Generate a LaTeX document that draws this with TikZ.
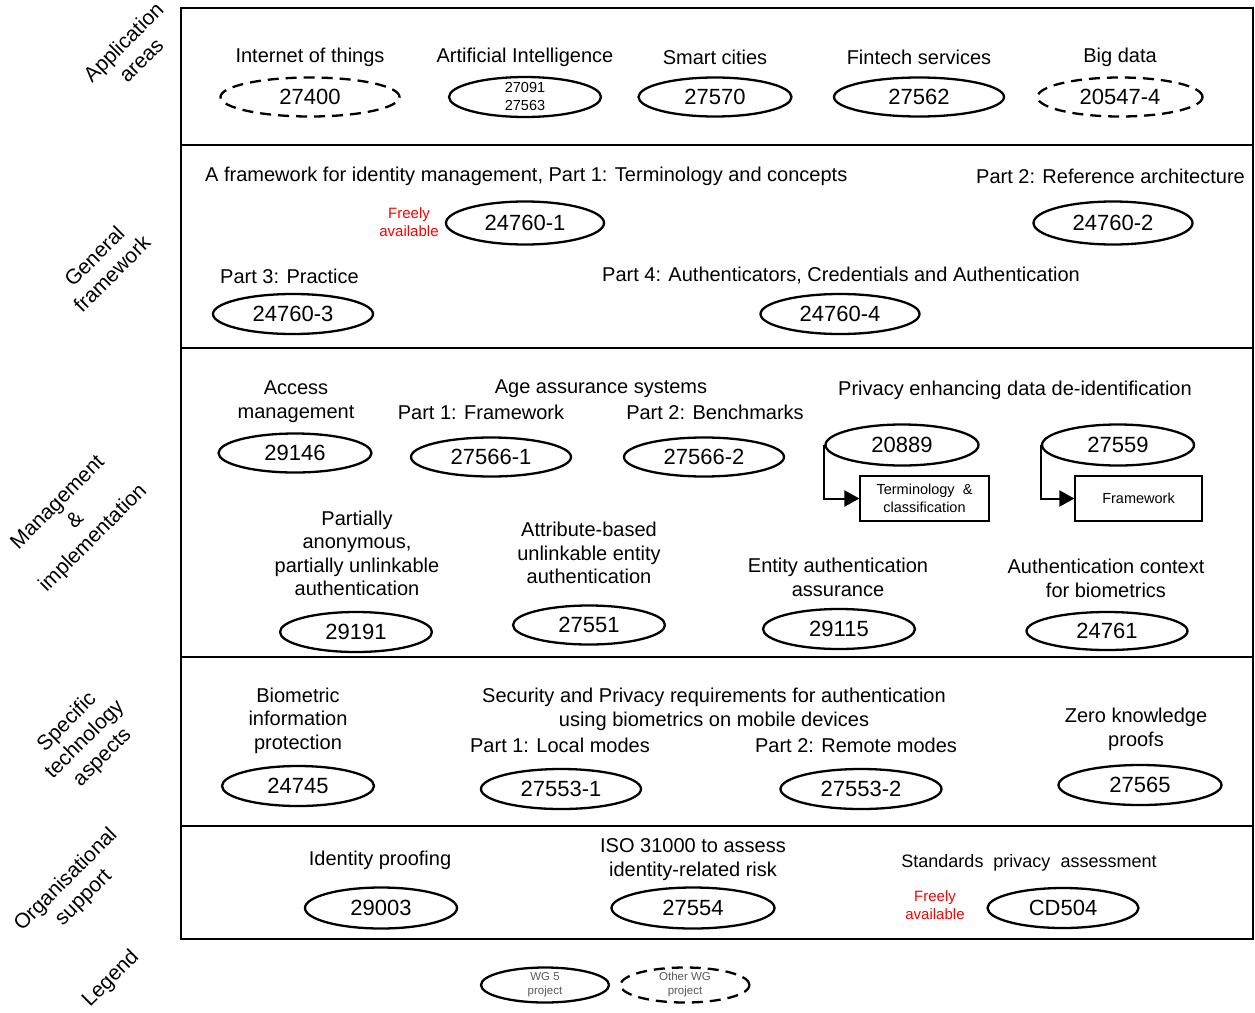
\documentclass[tikz,border=0pt]{standalone}
\usepackage{fontspec}
\setmainfont{Liberation Sans}
\usetikzlibrary{shapes.geometric,arrows.meta}
\begin{document}
\begin{tikzpicture}[x=1pt,y=-1pt,
  std/.style={draw, ellipse, line width=2.3pt, inner sep=0pt, minimum height=39pt, font=\fontsize{22}{24}\selectfont},
  oth/.style={std, dash pattern=on 11pt off 7pt},
  lbl/.style={inner sep=0pt, align=center, font=\fontsize{20}{23.5}\selectfont},
  side/.style={inner sep=0pt, align=center, rotate=45, font=\fontsize{21}{25}\selectfont},
  free/.style={inner sep=0pt, align=center, text=red, font=\fontsize{15}{18}\selectfont},
  subbox/.style={draw, line width=1.2pt, inner sep=0pt, minimum width=129pt, minimum height=45pt, align=center, font=\fontsize{14.5}{18}\selectfont},
  arr/.style={line width=2pt, -{Triangle[length=15pt,width=16pt]}},
  frame/.style={line width=2.5pt}]
\useasboundingbox (0,0) rectangle (1255,1012);
% frame
\draw[frame] (181,8) rectangle (1253,939);
\draw[frame] (181,145) -- (1253,145);
\draw[frame] (181,348) -- (1253,348);
\draw[frame] (181,657) -- (1253,657);
\draw[frame] (181,826) -- (1253,826);
% side labels
\node[side] (sA) at (132,51) {Application\\areas};
\node[side] (sG) at (103,265) {General\\framework};
\node[side] (sM) at (76,521) {Management\\\&\\implementation};
\node[side] (sS) at (85,740) {Specific\\technology\\aspects};
\node[side] (sO) at (75,889) {Organisational\\support};
\node[side] (sL) at (111,979) {Legend};
% Row 1
\node[lbl] (tIoT) at (310,57) {Internet of things};
\node[oth, minimum width=179pt] (e27400) at (310,97) {27400};
\node[lbl] (tAI) at (525,57) {Artificial Intelligence};
\node[std, minimum width=152pt, font=\fontsize{14.5}{18}\selectfont, align=center] (eAI) at (525,97) {27091\\27563};
\node[lbl] (tSC) at (715,57) {Smart cities};
\node[std, minimum width=153pt] (e27570) at (715,97) {27570};
\node[lbl] (tFS) at (919,57) {Fintech services};
\node[std, minimum width=170pt] (e27562) at (919,97) {27562};
\node[lbl] (tBD) at (1120,57) {Big data};
\node[oth, minimum width=165pt] (e20547) at (1120,97) {20547-4};
% Row 2
\node[lbl, anchor=west] (tP1) at (205,176) {A framework for identity management, Part 1: Terminology and concepts};
\node[lbl, anchor=east] (tP2) at (1245,176) {Part 2: Reference architecture};
\node[free] (fr1) at (409,222) {Freely\\available};
\node[std, minimum width=158pt, minimum height=43pt] (e247601) at (525,223) {24760-1};
\node[std, minimum width=159pt, minimum height=43pt] (e247602) at (1113,223) {24760-2};
\node[lbl, anchor=west] (tP3) at (220,276) {Part 3: Practice};
\node[std, minimum width=160pt, minimum height=40pt] (e247603) at (293,314) {24760-3};
\node[lbl] (tP4) at (841,276) {Part 4: Authenticators, Credentials and Authentication};
\node[std, minimum width=159pt, minimum height=40pt] (e247604) at (840,314) {24760-4};
% Row 3
\node[lbl] (tAM) at (296,401.5) {Access\\management};
\node[std, minimum width=153pt] (e29146) at (295,453) {29146};
\node[lbl] (tAA) at (601,389) {Age assurance systems};
\node[lbl] (tAA1) at (481,412) {Part 1: Framework};
\node[lbl] (tAA2) at (715,412) {Part 2: Benchmarks};
\node[std, minimum width=160pt] (e275661) at (491,457) {27566-1};
\node[std, minimum width=160pt] (e275662) at (704,457) {27566-2};
\node[lbl] (tPE) at (1015,390) {Privacy enhancing data de-identification};
\node[std, minimum width=153pt, minimum height=41pt] (e20889) at (902,445) {20889};
\node[std, minimum width=152pt, minimum height=41pt] (e27559) at (1118,445) {27559};
\node[subbox] (b1) at (924.5,498.5) {Terminology\ \ \&\\classification};
\node[subbox, minimum width=127pt] (b2) at (1138.5,498.5) {Framework};
\draw[arr] (e20889.west) |- (b1.west);
\draw[arr] (e27559.west) |- (b2.west);
\node[lbl] (tPA) at (357,553.5) {Partially\\anonymous,\\partially unlinkable\\authentication};
\node[std, minimum width=152pt, minimum height=40pt] (e29191) at (356,632) {29191};
\node[lbl] (tAB) at (589,553) {Attribute-based\\unlinkable entity\\authentication};
\node[std, minimum width=152pt] (e27551) at (589,625) {27551};
\node[lbl] (tEA) at (838,577.5) {Entity authentication\\assurance};
\node[std, minimum width=152pt, minimum height=40pt] (e29115) at (839,629) {29115};
\node[lbl] (tAC) at (1106,578.5) {Authentication context\\for biometrics};
\node[std, minimum width=161pt, minimum height=38pt] (e24761) at (1107,631) {24761};
% Row 4
\node[lbl] (tBI) at (298,720.5) {Biometric\\information\\protection};
\node[std, minimum width=152pt, minimum height=40pt] (e24745) at (298,786) {24745};
\node[lbl] (tSP) at (714,709.5) {Security and Privacy requirements for authentication\\using biometrics on mobile devices};
\node[lbl] (tSP1) at (560,745) {Part 1: Local modes};
\node[lbl] (tSP2) at (856,745) {Part 2: Remote modes};
\node[std, minimum width=160pt, minimum height=40pt] (e275531) at (561,789) {27553-1};
\node[std, minimum width=161pt, minimum height=40pt] (e275532) at (861,789) {27553-2};
\node[lbl] (tZK) at (1136,729.5) {Zero knowledge\\proofs};
\node[std, minimum width=163pt, minimum height=40pt] (e27565) at (1140,785) {27565};
% Row 5
\node[lbl] (tIP) at (380,860) {Identity proofing};
\node[std, minimum width=152pt, minimum height=41pt] (e29003) at (381,908) {29003};
\node[lbl] (tIS) at (693,859.5) {ISO 31000 to assess\\identity-related risk};
\node[std, minimum width=163pt, minimum height=41pt] (e27554) at (693,908) {27554};
\node[lbl, font=\fontsize{18}{22}\selectfont] (tST) at (1029,863) {Standards\ \ privacy\ \ assessment};
\node[free] (fr2) at (935,905) {Freely\\available};
\node[std, minimum width=151pt, minimum height=40pt] (eCD) at (1063,908) {CD504};
% Legend
\node[std, minimum width=128pt, minimum height=35pt, text=gray!70!black, font=\fontsize{11.5}{14}\selectfont, align=center] (lg1) at (545,985) {WG 5\\project};
\node[oth, minimum width=129pt, minimum height=35pt, text=gray!70!black, font=\fontsize{11.5}{14}\selectfont, align=center] (lg2) at (685,985) {Other WG\\project};
\end{tikzpicture}
\end{document}
